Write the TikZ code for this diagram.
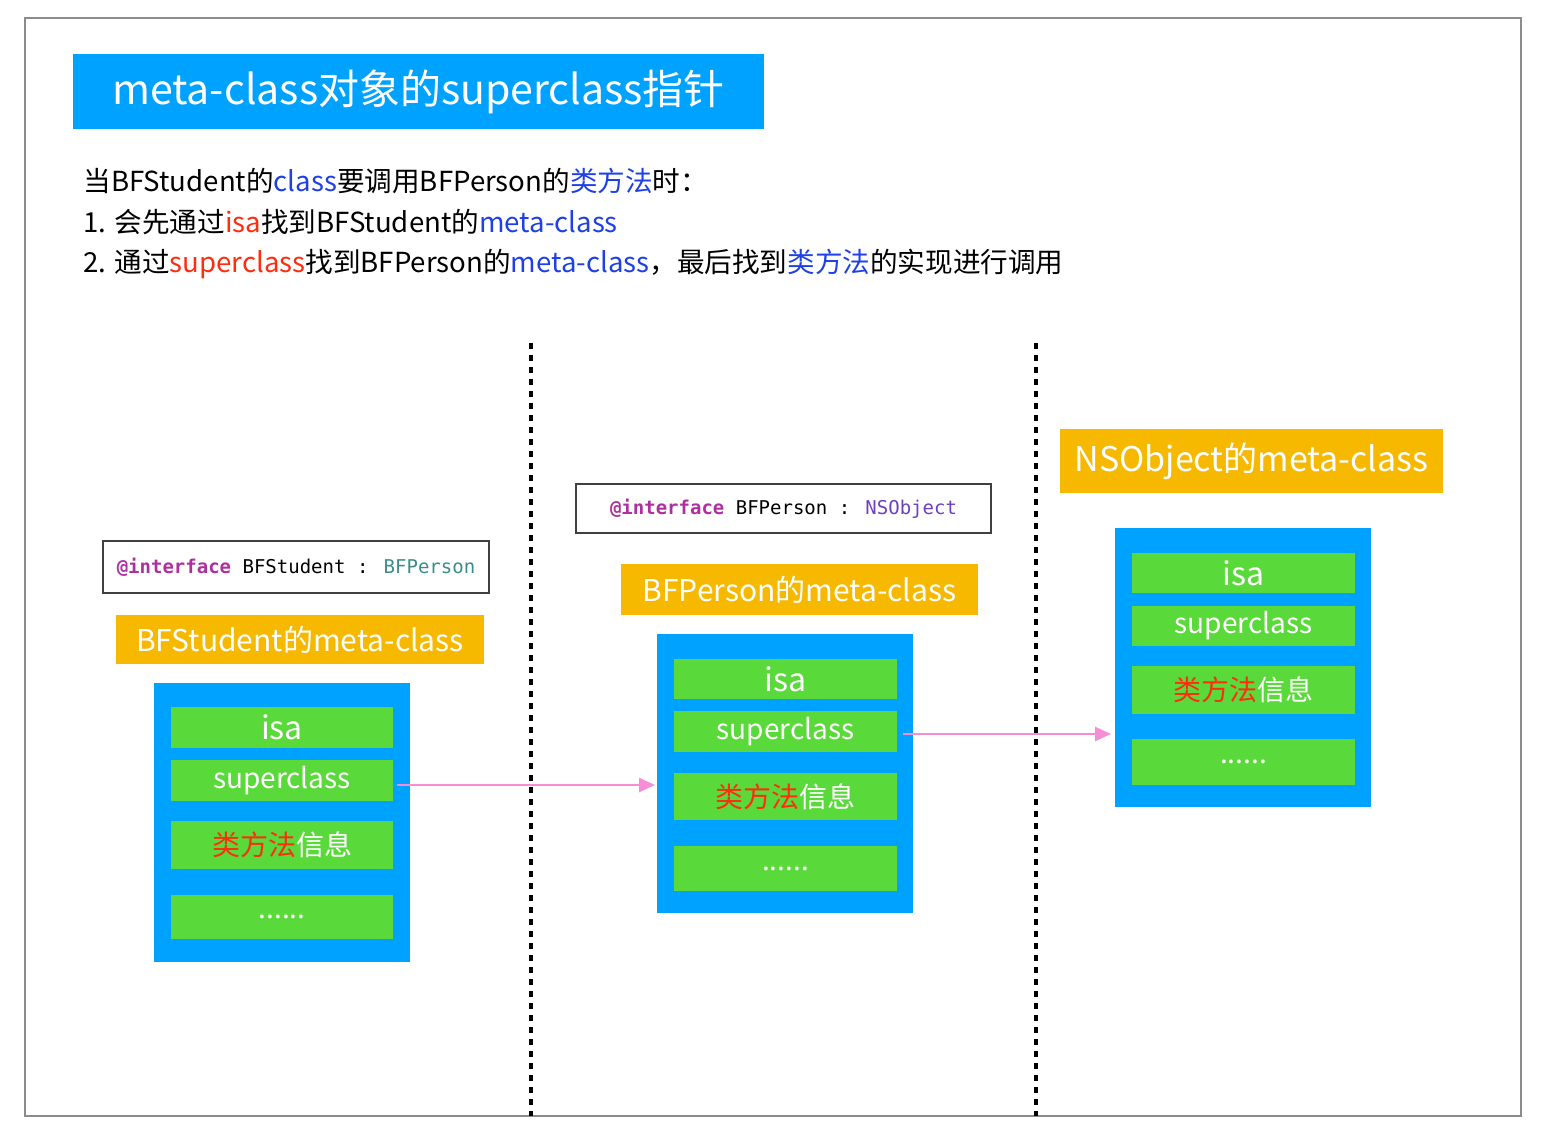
\documentclass[tikz,border=0pt]{standalone}
\usepackage{fontspec}
\setmainfont{Noto Sans CJK SC}
\newfontfamily\monof{DejaVu Sans Mono}
\usetikzlibrary{arrows.meta}
\definecolor{bblue}{HTML}{00A2FF}
\definecolor{bgreen}{HTML}{5AD93A}
\definecolor{borange}{HTML}{F7B800}
\definecolor{tred}{HTML}{FF2D10}
\definecolor{tblue}{HTML}{1E40E6}
\definecolor{apink}{HTML}{F48FD6}
\definecolor{kwd}{HTML}{B02FA0}
\definecolor{teal}{HTML}{3B8C8C}
\definecolor{purp}{HTML}{6E3FC0}
\tikzset{
 bx/.style={inner sep=0pt,outer sep=0pt,anchor=center},
 blu/.style={bx,fill=bblue},
 grn/.style={bx,fill=bgreen,text=white,font=\fontsize{14}{15}\selectfont},
 org/.style={bx,fill=borange,text=white,font=\fontsize{15}{16}\selectfont},
 code/.style={bx,draw=black!75,line width=0.6pt,font=\monof\fontsize{9.5}{10}\selectfont},
 dsh/.style={line width=1.6pt,dash pattern=on 3pt off 3pt},
 arr/.style={apink,line width=1.3pt,-{Triangle[length=8pt,width=7pt]}},
 txt/.style={anchor=west,inner sep=0pt,font=\fontsize{13.8}{14}\selectfont}
}
\begin{document}
\begin{tikzpicture}[x=0.5pt,y=-0.5pt]
\useasboundingbox (0,0) rectangle (1550,1138);
\draw[black!45,line width=0.6pt] (25,18) rectangle (1521,1116);
\node[bx,fill=bblue,minimum width=345.5pt,minimum height=37.5pt,text=white,font=\fontsize{20.5}{22}\selectfont] (title) at (418.5,91.5) {meta-class对象的superclass指针};
\node[txt] (l1) at (83,181) {当BFStudent的\textcolor{tblue}{class}要调用BFPerson的\textcolor{tblue}{类方法}时：};
\node[txt] (l2) at (83,222) {1. 会先通过\textcolor{tred}{isa}找到BFStudent的\textcolor{tblue}{meta-class}};
\node[txt] (l3) at (83,264) {2. 通过\textcolor{tred}{superclass}找到BFPerson的\textcolor{tblue}{meta-class}，最后找到\textcolor{tblue}{类方法}的实现进行调用};
\coordinate (d1a) at (531,343); \coordinate (d1b) at (531,1116);
\coordinate (d2a) at (1036,343); \coordinate (d2b) at (1036,1116);
\draw[dsh] (d1a) -- (d1b);
\draw[dsh] (d2a) -- (d2b);
% column 1
\node[code,minimum width=193pt,minimum height=26pt] (c1) at (296,567) {\textcolor{kwd}{\bfseries @interface} BFStudent : \textcolor{teal}{BFPerson}};
\node[org,minimum width=184pt,minimum height=24.5pt] (o1) at (300,639.5) {BFStudent的meta-class};
\node[blu,minimum width=128pt,minimum height=139.5pt] (b1) at (282,822.5) {};
\node[grn,minimum width=111pt,minimum height=20.5pt,font=\fontsize{16}{17}\selectfont] (i1) at (282,727.5) {isa};
\node[grn,minimum width=111pt,minimum height=20.5pt] (s1) at (282,780.5) {superclass};
\node[grn,minimum width=111pt,minimum height=24pt,text=tred] (m1) at (282,845) {类方法\textcolor{white}{信息}};
\node[grn,minimum width=111pt,minimum height=22pt] (e1) at (282,917) {......};
% column 2
\node[code,minimum width=207.5pt,minimum height=24.5pt] (c2) at (783.5,508.5) {\textcolor{kwd}{\bfseries @interface} BFPerson : \textcolor{purp}{NSObject}};
\node[org,minimum width=178.5pt,minimum height=25.5pt] (o2) at (799.5,589.5) {BFPerson的meta-class};
\node[blu,minimum width=128pt,minimum height=139.5pt] (b2) at (785,773.5) {};
\node[grn,minimum width=111.5pt,minimum height=20pt,font=\fontsize{16}{17}\selectfont] (i2) at (785.5,679) {isa};
\node[grn,minimum width=111.5pt,minimum height=20.5pt] (s2) at (785.5,731.5) {superclass};
\node[grn,minimum width=111.5pt,minimum height=23.5pt,text=tred] (m2) at (785.5,796.5) {类方法\textcolor{white}{信息}};
\node[grn,minimum width=111.5pt,minimum height=22.5pt] (e2) at (785.5,868.5) {......};
% column 3
\node[org,minimum width=191.5pt,minimum height=32pt,font=\fontsize{17}{18}\selectfont] (o3) at (1251.5,461) {NSObject的meta-class};
\node[blu,minimum width=128pt,minimum height=139.5pt] (b3) at (1243,667.5) {};
\node[grn,minimum width=111.5pt,minimum height=20pt,font=\fontsize{16}{17}\selectfont] (i3) at (1243.5,573) {isa};
\node[grn,minimum width=111.5pt,minimum height=20pt] (s3) at (1243.5,626) {superclass};
\node[grn,minimum width=111.5pt,minimum height=24pt,text=tred] (m3) at (1243.5,690) {类方法\textcolor{white}{信息}};
\node[grn,minimum width=111.5pt,minimum height=23pt] (e3) at (1243.5,762) {......};
% arrows
\coordinate (a1s) at (397,785); \coordinate (a1e) at (655,785);
\coordinate (a2s) at (903,734); \coordinate (a2e) at (1111,734);
\draw[arr] (a1s) -- (a1e);
\draw[arr] (a2s) -- (a2e);
\end{tikzpicture}
\end{document}
